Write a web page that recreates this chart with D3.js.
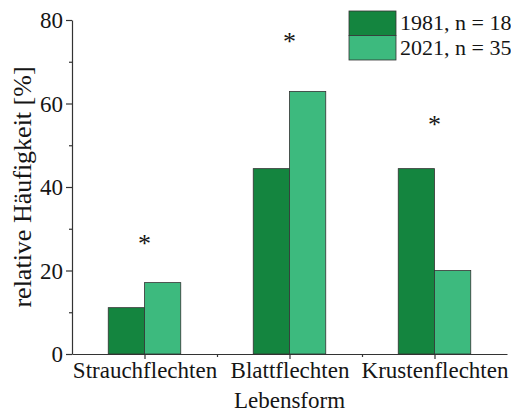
<!DOCTYPE html>
<html>
<head>
<meta charset="utf-8">
<script src="https://cdn.jsdelivr.net/npm/d3@7"></script>
<style>
  html, body { margin: 0; padding: 0; background: #fff; }
  svg { display: block; }
  text { font-family: "Liberation Serif", "DejaVu Serif", serif; fill: #151515; }
</style>
</head>
<body>
<svg id="chart" width="511" height="412"></svg>
<script>
// Lebensformen der Flechten, relative Häufigkeit in Prozent
const categories = ["Strauchflechten", "Blattflechten", "Krustenflechten"];
const values1981 = [11.1, 44.4, 44.4];   // n = 18
const values2021 = [17.1, 62.9, 20.0];   // n = 35
const seriesNames = ["1981, n = 18", "2021, n = 35"];
const markerY = [27, 75.5, 55.5];        // Höhe der Signifikanz-Sternchen
const yTicks = [0, 20, 40, 60, 80];
const yMinorTicks = [10, 30, 50, 70];

const colors = ["#14853f", "#3dba7e"];

const svg = d3.select("#chart");
const m = { left: 72, right: 507, top: 20, bottom: 354 };

const x = d3.scaleLinear().domain([0.5, categories.length + 0.5]).range([m.left, m.right]);
const y = d3.scaleLinear().domain([0, 80]).range([m.bottom, m.top]);
const barW = 0.25;

// Balken
const series = [values1981, values2021];
series.forEach((vals, s) => {
  svg.append("g").selectAll("rect")
    .data(vals)
    .join("rect")
    .attr("x", (d, i) => x(i + 1 - barW + s * barW))
    .attr("width", x(barW) - x(0))
    .attr("y", d => y(d))
    .attr("height", d => y(0) - y(d))
    .attr("fill", colors[s])
    .attr("stroke", "#333")
    .attr("stroke-width", 0.8);
});

// Sternchen
svg.append("g").selectAll("text")
  .data(markerY)
  .join("text")
  .attr("x", (d, i) => x(i + 1))
  .attr("y", d => y(d) + 11)
  .attr("text-anchor", "middle")
  .style("font-size", "26px")
  .text("*");

// y-Achse
const yAxis = svg.append("g").attr("transform", `translate(${m.left},0)`)
  .call(d3.axisLeft(y).tickValues(yTicks).tickSize(6).tickSizeOuter(0).tickPadding(3));
yAxis.selectAll("text").style("font-size", "23px").style("font-family", "Liberation Serif, serif").attr("dy", "0.34em");
svg.append("g").attr("transform", `translate(${m.left},0)`)
  .call(d3.axisLeft(y).tickValues(yMinorTicks).tickSize(3).tickFormat(""))
  .call(g => g.select(".domain").remove());

// x-Achse
const xAxis = svg.append("g").attr("transform", `translate(0,${m.bottom})`)
  .call(d3.axisBottom(x).tickValues([1, 2, 3]).tickSize(5).tickSizeOuter(0)
    .tickFormat((d, i) => categories[i]).tickPadding(3));
xAxis.selectAll("text").style("font-size", "23px").style("font-family", "Liberation Serif, serif");
svg.append("g").attr("transform", `translate(0,${m.bottom})`)
  .call(d3.axisBottom(x).tickValues([1.5, 2.5]).tickSize(3).tickFormat(""))
  .call(g => g.select(".domain").remove());

svg.selectAll(".domain, .tick line").attr("stroke", "#333").attr("stroke-width", 1.2);

// Achsentitel
svg.append("text")
  .attr("transform", `translate(31,${(m.top + m.bottom) / 2}) rotate(-90)`)
  .attr("text-anchor", "middle")
  .style("font-size", "26px")
  .text("relative Häufigkeit [%]");
svg.append("text")
  .attr("x", x(2))
  .attr("y", 408)
  .attr("text-anchor", "middle")
  .style("font-size", "23px")
  .text("Lebensform");

// Legende
const leg = svg.append("g").attr("transform", "translate(349,11)");
seriesNames.forEach((name, i) => {
  leg.append("rect")
    .attr("x", 0).attr("y", i * 24.5)
    .attr("width", 47).attr("height", 24.5)
    .attr("fill", colors[i])
    .attr("stroke", "#333").attr("stroke-width", 0.8);
  leg.append("text")
    .attr("x", 51).attr("y", i * 24.5 + 19)
    .style("font-size", "22px")
    .text(name);
});
</script>
</body>
</html>
